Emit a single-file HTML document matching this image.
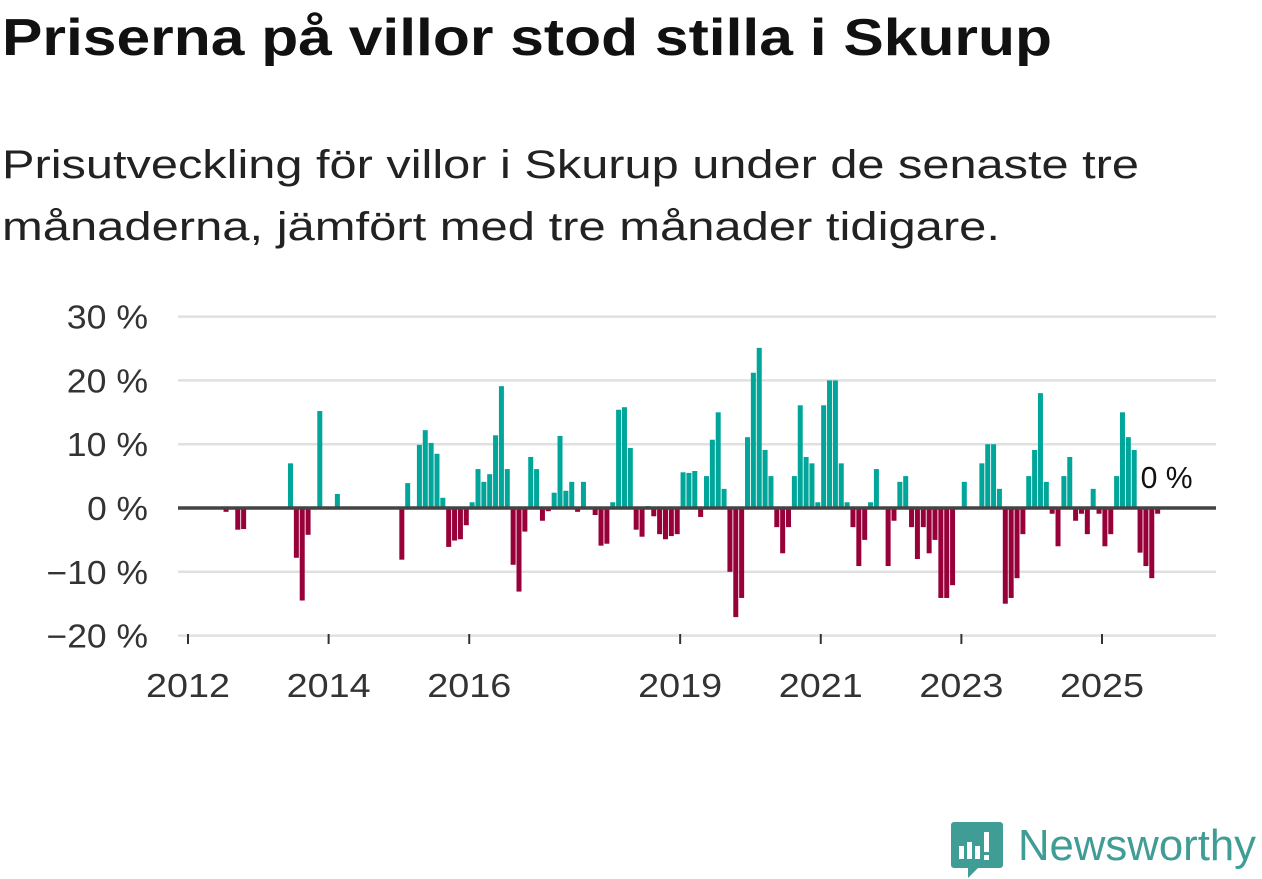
<!DOCTYPE html>
<html><head><meta charset="utf-8"><style>
body{margin:0;background:#fff;width:1262px;height:879px;overflow:hidden;font-family:"Liberation Sans","DejaVu Sans",sans-serif;}
.fit{position:absolute;left:2px;white-space:nowrap;transform-origin:0 0;margin:0}
#title{top:8px;font-size:52px;font-weight:bold;color:#111}
.sub{font-size:40px;color:#222}
#sub1{top:143px}#sub2{top:205px}
svg{position:absolute;left:0;top:0}
</style></head><body>
<h1 id="title" class="fit" data-w="1050">Priserna på villor stod stilla i Skurup</h1>
<div>
<p id="sub1" class="fit sub" data-w="1137">Prisutveckling för villor i Skurup under de senaste tre</p>
<p id="sub2" class="fit sub" data-w="998">månaderna, jämfört med tre månader tidigare.</p>
</div>
<svg id="chart" width="1262" height="879"></svg>
<script>
const monthIdx=[6,8,9,17,18,19,20,22,25,36,37,39,40,41,42,43,44,45,46,47,48,49,50,51,52,53,54,55,56,57,58,59,60,61,62,63,64,65,66,67,69,70,71,72,73,74,75,76,77,78,79,80,81,82,83,84,85,86,87,88,89,90,91,92,93,94,95,96,97,98,99,100,101,102,103,104,105,106,107,108,109,110,111,112,113,114,115,116,117,119,120,121,122,123,124,125,126,127,128,129,130,132,135,136,137,138,139,140,141,142,143,144,145,146,147,148,149,150,151,152,153,154,155,156,157,158,159,160,161,162,163,164,165,166];
const values=[-0.6,-3.4,-3.3,7.0,-7.8,-14.5,-4.2,15.2,2.2,-8.1,3.9,9.9,12.2,10.2,8.5,1.6,-6.1,-5.1,-4.9,-2.7,0.9,6.1,4.1,5.3,11.4,19.1,6.1,-8.9,-13.1,-3.7,8.0,6.1,-2.0,-0.5,2.4,11.3,2.7,4.1,-0.6,4.1,-1.1,-5.9,-5.6,0.9,15.4,15.8,9.4,-3.4,-4.5,0.3,-1.3,-4.1,-4.9,-4.4,-4.1,5.6,5.5,5.8,-1.4,5.0,10.7,15.0,3.0,-10.0,-17.1,-14.1,11.1,21.2,25.1,9.1,5.0,-3.0,-7.1,-3.0,5.0,16.1,8.0,7.0,0.9,16.1,20.0,20.0,7.0,0.9,-3.0,-9.1,-5.0,0.9,6.1,-9.1,-2.0,4.1,5.0,-3.0,-8.0,-3.0,-7.1,-5.0,-14.1,-14.1,-12.1,4.1,7.0,10.0,10.0,3.0,-15.0,-14.1,-11.0,-4.1,5.0,9.1,18.0,4.1,-0.9,-6.0,5.0,8.0,-2.0,-0.9,-4.1,3.0,-0.9,-6.0,-4.1,5.0,15.0,11.1,9.1,-7.0,-9.1,-11.0,-0.9,0];
const yTicks=[30,20,10,0,-10,-20];
const yTickLabels=["30 %","20 %","10 %","0 %","−10 %","−20 %"];
const xTickYears=[2012,2014,2016,2019,2021,2023,2025];
document.querySelectorAll('.fit').forEach(el=>{const w=el.getBoundingClientRect().width;el.style.transform='scaleX('+(+el.dataset.w/w)+')';});
const NS="http://www.w3.org/2000/svg";
const svg=document.getElementById('chart');
const X0=188, PX_PER_MONTH=5.859, Y0=508, PX_PER_PCT=6.38;
function xMonth(m){return X0+PX_PER_MONTH*m;}
function yVal(v){return Y0-v*PX_PER_PCT;}
function mk(t,a){const e=document.createElementNS(NS,t);for(const k in a)e.setAttribute(k,a[k]);svg.appendChild(e);return e;}
yTicks.forEach((t,i)=>{
  if(t!==0){const g=mk('line',{x1:178,x2:1216,y1:yVal(t),y2:yVal(t),stroke:'#e0e0e0','stroke-width':2.5});
  
  }
  const lab=yTickLabels[i];
  const l=mk('text',{x:148,y:yVal(t)+12,'text-anchor':'end','font-size':33,fill:'#333',textLength:lab.length*20.3,lengthAdjust:'spacingAndGlyphs'});
  l.textContent=lab;
  
  
});
xTickYears.forEach(yr=>{
  const x=xMonth((yr-2012)*12);
  const tk=mk('line',{x1:x,x2:x,y1:634,y2:644,stroke:'#333','stroke-width':2});
  
  
  const l=mk('text',{x:x,y:697,'text-anchor':'middle','font-size':33,fill:'#333',textLength:84,lengthAdjust:'spacingAndGlyphs'});
  l.textContent=yr;
  
  
});
monthIdx.forEach((m,i)=>{
  const v=values[i];if(v===0)return;
  const x=xMonth(m)+0.4, y=v>0?yVal(v):Y0;
  const r=mk('rect',{x:x,y:y,width:5,height:Math.abs(v)*PX_PER_PCT,fill:v>0?'#00a69a':'#98003a'});
  
  
});
const z=mk('line',{x1:178,x2:1216,y1:Y0,y2:Y0,stroke:'#444','stroke-width':3.5});


const lastI=values.length-1;
const lb=mk('rect',{x:xMonth(monthIdx[lastI])-22,y:458,width:60,height:36,fill:'#fff',rx:6});


const lt=mk('text',{x:xMonth(monthIdx[lastI])-20,y:488,'font-size':31,fill:'#111',textLength:52,lengthAdjust:'spacingAndGlyphs'});
lt.textContent=(values[lastI]).toFixed(0)+' %';


</script>
<svg width="1262" height="879" style="pointer-events:none">
<path d="M954 822 h46 a3 3 0 0 1 3 3 v40 a3 3 0 0 1 -3 3 h-22 l-10 10 v-10 h-14 a3 3 0 0 1 -3 -3 v-40 a3 3 0 0 1 3 -3z" fill="#3f9d96"/>
<rect x="959" y="846" width="5" height="13" fill="#fff"/><rect x="967" y="842" width="5" height="17" fill="#fff"/><rect x="975" y="846" width="5" height="13" fill="#fff"/><rect x="984" y="832" width="5" height="20" fill="#fff"/><rect x="984" y="855" width="5" height="5" fill="#fff"/>
<text x="1018" y="860" font-size="44" fill="#3f9d96" font-family="Liberation Sans, sans-serif" textLength="238" lengthAdjust="spacingAndGlyphs">Newsworthy</text>
</svg>
</body></html>
